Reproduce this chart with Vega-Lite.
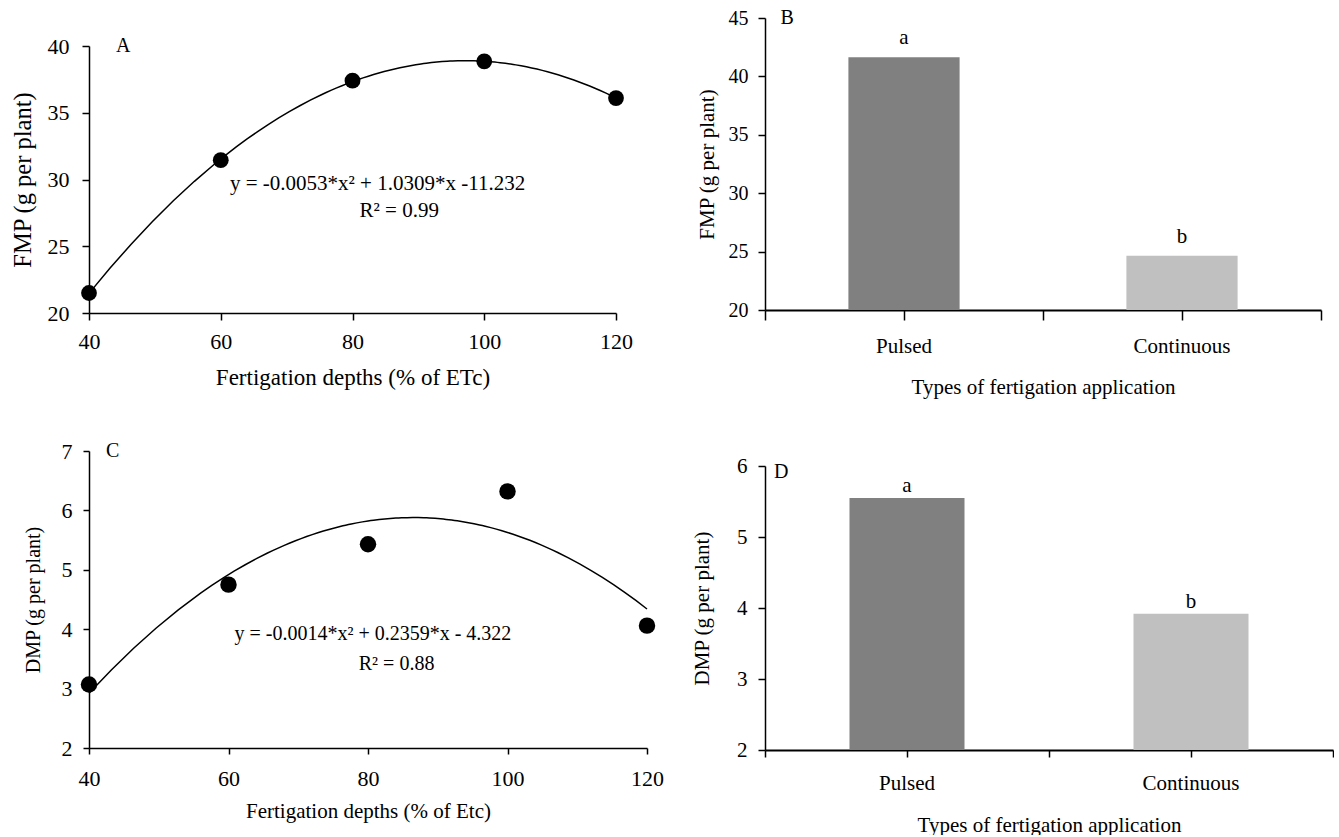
{
  "$schema": "https://vega.github.io/schema/vega-lite/v6.json",
  "background": "white",
  "padding": {"left": 10, "top": 8, "right": 0, "bottom": 0},
  "config": {
    "font": "Liberation Serif",
    "view": {"stroke": null},
    "style": {
      "guide-label": {"font": "Liberation Serif", "fill": "black"},
      "guide-title": {"font": "Liberation Serif", "fill": "black", "fontWeight": "normal"}
    },
    "axis": {
      "grid": false,
      "domainColor": "black",
      "tickColor": "black",
      "labelColor": "black",
      "titleColor": "black",
      "labelFont": "Liberation Serif",
      "titleFont": "Liberation Serif",
      "titleFontWeight": "normal",
      "domainWidth": 1.5,
      "tickWidth": 1.5,
      "labelFlush": false,
      "labelOverlap": false,
      "labelAngle": 0
    },
    "text": {"font": "Liberation Serif", "color": "black"}
  },
  "bounds": "flush",
  "columns": 2,
  "spacing": {"row": 138, "column": 118},
  "concat": [
    {
      "width": 527,
      "height": 295,
      "data": {"values": [
        {"depth": 40, "fmp": 21.5},
        {"depth": 60, "fmp": 31.45},
        {"depth": 80, "fmp": 37.4},
        {"depth": 100, "fmp": 38.85},
        {"depth": 120, "fmp": 36.1}
      ]},
      "layer": [
        {
          "transform": [{"regression": "fmp", "on": "depth", "method": "poly", "order": 2}],
          "mark": {"type": "line", "color": "black", "strokeWidth": 1.5},
          "encoding": {
            "x": {"field": "depth", "type": "quantitative",
              "scale": {"domain": [40, 120], "nice": false, "zero": false},
              "axis": {"title": "Fertigation depths (% of ETc)", "values": [40, 60, 80, 100, 120], "tickSize": 7, "labelPadding": 11, "labelFont": "Liberation Serif", "titleFont": "Liberation Serif", "labelFontSize": 22, "titleFontSize": 23, "titlePadding": 14}},
            "y": {"field": "fmp", "type": "quantitative",
              "scale": {"domain": [20, 40], "nice": false, "zero": false, "range": [295, 28]},
              "axis": {"title": "FMP (g per plant)", "values": [20, 25, 30, 35, 40], "tickSize": 7, "labelPadding": 13, "labelFont": "Liberation Serif", "titleFont": "Liberation Serif", "labelFontSize": 22, "titleFontSize": 24.5, "titlePadding": 12}}
          }
        },
        {
          "mark": {"type": "circle", "size": 250, "color": "black", "opacity": 1},
          "encoding": {
            "x": {"field": "depth", "type": "quantitative"},
            "y": {"field": "fmp", "type": "quantitative"}
          }
        },
        {
          "data": {"values": [{}]},
          "mark": {"type": "text", "font": "Liberation Serif", "fontSize": 20, "baseline": "middle", "align": "center"},
          "encoding": {"x": {"datum": 45.2}, "y": {"datum": 40}, "text": {"value": "A"}}
        },
        {
          "data": {"values": [{}]},
          "mark": {"type": "text", "font": "Liberation Serif", "fontSize": 21, "baseline": "middle", "align": "center"},
          "encoding": {"x": {"datum": 83.8}, "y": {"datum": 29.67}, "text": {"value": "y = -0.0053*x² + 1.0309*x -11.232"}}
        },
        {
          "data": {"values": [{}]},
          "mark": {"type": "text", "font": "Liberation Serif", "fontSize": 21, "baseline": "middle", "align": "center"},
          "encoding": {"x": {"datum": 87.1}, "y": {"datum": 27.65}, "text": {"value": "R² = 0.99"}}
        }
      ]
    },
    {
      "width": 556,
      "height": 292,
      "data": {"values": [
        {"type": "Pulsed", "fmp": 41.65, "sig": "a"},
        {"type": "Continuous", "fmp": 24.65, "sig": "b"}
      ]},
      "resolve": {"axis": {"x": "independent"}},
      "layer": [
        {
          "mark": {"type": "bar", "width": {"band": 0.4}},
          "encoding": {
            "x": {"field": "type", "type": "nominal", "sort": null,
              "scale": {"paddingInner": 0, "paddingOuter": 0},
              "axis": {"orient": "bottom", "title": "Types of fertigation application", "tickSize": 10, "labelPadding": 15, "labelFont": "Liberation Serif", "titleFont": "Liberation Serif", "labelFontSize": 21, "titleFontSize": 21, "titlePadding": 20, "domainWidth": 2}},
            "y": {"field": "fmp", "type": "quantitative",
              "scale": {"domain": [20, 45], "nice": false, "zero": false},
              "axis": {"title": "FMP (g per plant)", "values": [20, 25, 30, 35, 40, 45], "tickSize": 7, "labelPadding": 10, "labelFont": "Liberation Serif", "titleFont": "Liberation Serif", "labelFontSize": 20, "titleFontSize": 21, "titlePadding": 11}},
            "y2": {"datum": 20},
            "color": {"field": "type", "type": "nominal",
              "scale": {"domain": ["Pulsed", "Continuous"], "range": ["#808080", "#c0c0c0"]},
              "legend": null}
          }
        },
        {
          "mark": {"type": "text", "font": "Liberation Serif", "fontSize": 21, "baseline": "alphabetic", "align": "center", "dy": -13},
          "encoding": {
            "x": {"field": "type", "type": "nominal", "sort": null,
              "axis": {"orient": "bottom", "labels": false, "domain": false, "title": null, "tickSize": 10, "tickBand": "extent"}},
            "y": {"field": "fmp", "type": "quantitative"},
            "text": {"field": "sig"}
          }
        },
        {
          "data": {"values": [{}]},
          "mark": {"type": "text", "font": "Liberation Serif", "fontSize": 20, "baseline": "middle", "align": "center"},
          "encoding": {
            "x": {"datum": "Pulsed", "type": "nominal", "bandPosition": 0.08, "axis": null},
            "y": {"datum": 45},
            "text": {"value": "B"}
          }
        }
      ]
    },
    {
      "width": 558,
      "height": 297,
      "data": {"values": [
        {"depth": 40, "dmp": 3.07},
        {"depth": 60, "dmp": 4.75},
        {"depth": 80, "dmp": 5.43},
        {"depth": 100, "dmp": 6.32},
        {"depth": 120, "dmp": 4.06}
      ]},
      "layer": [
        {
          "transform": [{"regression": "dmp", "on": "depth", "method": "poly", "order": 2}],
          "mark": {"type": "line", "color": "black", "strokeWidth": 1.5},
          "encoding": {
            "x": {"field": "depth", "type": "quantitative",
              "scale": {"domain": [40, 120], "nice": false, "zero": false},
              "axis": {"title": "Fertigation depths (% of Etc)", "values": [40, 60, 80, 100, 120], "tickSize": 6, "labelPadding": 14, "labelFont": "Liberation Serif", "titleFont": "Liberation Serif", "labelFontSize": 22, "titleFontSize": 21, "titlePadding": 11}},
            "y": {"field": "dmp", "type": "quantitative",
              "scale": {"domain": [2, 7], "nice": false, "zero": false},
              "axis": {"title": "DMP (g per plant)", "values": [2, 3, 4, 5, 6, 7], "format": "d", "tickSize": 6, "labelPadding": 11, "labelFont": "Liberation Serif", "titleFont": "Liberation Serif", "labelFontSize": 22, "titleFontSize": 20, "titlePadding": 18}}
          }
        },
        {
          "mark": {"type": "circle", "size": 270, "color": "black", "opacity": 1},
          "encoding": {
            "x": {"field": "depth", "type": "quantitative"},
            "y": {"field": "dmp", "type": "quantitative"}
          }
        },
        {
          "data": {"values": [{}]},
          "mark": {"type": "text", "font": "Liberation Serif", "fontSize": 20, "baseline": "middle", "align": "center"},
          "encoding": {"x": {"datum": 43.4}, "y": {"datum": 7}, "text": {"value": "C"}}
        },
        {
          "data": {"values": [{}]},
          "mark": {"type": "text", "font": "Liberation Serif", "fontSize": 20, "baseline": "middle", "align": "center"},
          "encoding": {"x": {"datum": 80.7}, "y": {"datum": 3.92}, "text": {"value": "y = -0.0014*x² + 0.2359*x - 4.322"}}
        },
        {
          "data": {"values": [{}]},
          "mark": {"type": "text", "font": "Liberation Serif", "fontSize": 20, "baseline": "middle", "align": "center"},
          "encoding": {"x": {"datum": 84.1}, "y": {"datum": 3.42}, "text": {"value": "R² = 0.88"}}
        }
      ]
    },
    {
      "width": 568,
      "height": 299,
      "data": {"values": [
        {"type": "Pulsed", "dmp": 5.55, "sig": "a"},
        {"type": "Continuous", "dmp": 3.92, "sig": "b"}
      ]},
      "resolve": {"axis": {"x": "independent"}},
      "layer": [
        {
          "mark": {"type": "bar", "width": {"band": 0.405}},
          "encoding": {
            "x": {"field": "type", "type": "nominal", "sort": null,
              "scale": {"paddingInner": 0, "paddingOuter": 0},
              "axis": {"orient": "bottom", "title": "Types of fertigation application", "tickSize": 7, "labelPadding": 15.5, "labelFont": "Liberation Serif", "titleFont": "Liberation Serif", "labelFontSize": 21, "titleFontSize": 21, "titlePadding": 20.5, "domainWidth": 2}},
            "y": {"field": "dmp", "type": "quantitative",
              "scale": {"domain": [2, 6], "nice": false, "zero": false, "range": [299, 15]},
              "axis": {"title": "DMP (g per plant)", "values": [2, 3, 4, 5, 6], "format": "d", "tickSize": 7, "labelPadding": 11, "labelFont": "Liberation Serif", "titleFont": "Liberation Serif", "labelFontSize": 21, "titleFontSize": 21, "titlePadding": 24}},
            "y2": {"datum": 2},
            "color": {"field": "type", "type": "nominal",
              "scale": {"domain": ["Pulsed", "Continuous"], "range": ["#808080", "#c0c0c0"]},
              "legend": null}
          }
        },
        {
          "mark": {"type": "text", "font": "Liberation Serif", "fontSize": 21, "baseline": "alphabetic", "align": "center", "dy": -6},
          "encoding": {
            "x": {"field": "type", "type": "nominal", "sort": null,
              "axis": {"orient": "bottom", "labels": false, "domain": false, "title": null, "tickSize": 7, "tickBand": "extent"}},
            "y": {"field": "dmp", "type": "quantitative"},
            "text": {"field": "sig"}
          }
        },
        {
          "data": {"values": [{}]},
          "mark": {"type": "text", "font": "Liberation Serif", "fontSize": 20, "baseline": "middle", "align": "center"},
          "encoding": {
            "x": {"datum": "Pulsed", "type": "nominal", "bandPosition": 0.057, "axis": null},
            "y": {"datum": 5.915},
            "text": {"value": "D"}
          }
        }
      ]
    }
  ]
}
